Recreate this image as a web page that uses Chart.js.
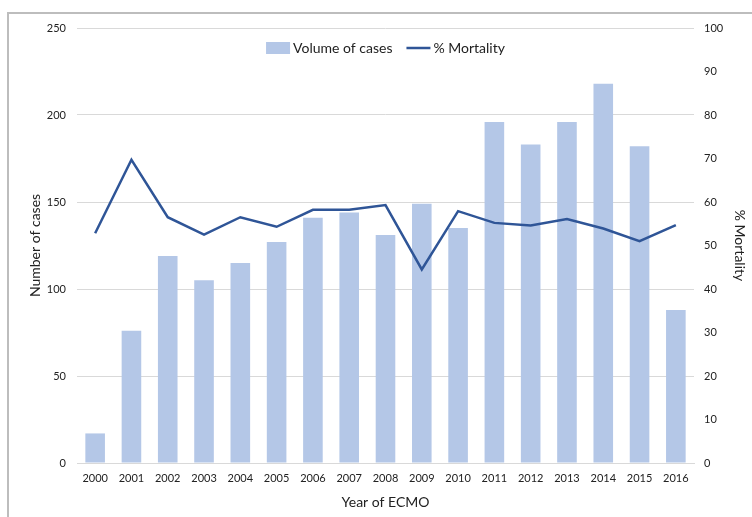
<!DOCTYPE html>
<html>
<head>
<meta charset="utf-8">
<script src="https://cdn.jsdelivr.net/npm/chart.js@4"></script>
<style>
  html, body { margin: 0; padding: 0; background: #fff; }
  #wrap { position: relative; width: 752px; height: 517px; }
  #frame { position: absolute; left: 7px; top: 12px; right: 0; bottom: 0; border-left: 2px solid #bdbdbd; border-top: 2px solid #bdbdbd; pointer-events: none; }
  canvas { position: absolute; left: 0; top: 0; }
</style>
</head>
<body>
<div id="wrap">
  <canvas id="c" width="752" height="517"></canvas>
  <div id="frame"></div>
</div>
<script>
const years = ['2000','2001','2002','2003','2004','2005','2006','2007','2008','2009','2010','2011','2012','2013','2014','2015','2016'];
const volumeOfCases = [17, 76, 119, 105, 115, 127, 141, 144, 131, 149, 135, 196, 183, 196, 218, 182, 88];
const mortalityPct = [52.8, 69.7, 56.5, 52.5, 56.5, 54.3, 58.2, 58.2, 59.3, 44.5, 57.9, 55.2, 54.6, 56.1, 53.9, 51.0, 54.7];

const FONT = "Lato, 'Liberation Sans', Arial, sans-serif";
const TXT = '#222';
const BAR_COLOR = '#b4c7e7';
const LINE_COLOR = '#2f5597';

const innerLegend = {
  id: 'innerLegend',
  afterDraw(chart) {
    const ctx = chart.ctx;
    const area = chart.chartArea;
    const ds = chart.data.datasets;
    ctx.save();
    ctx.font = '14px ' + FONT;
    ctx.textBaseline = 'middle';
    const sw = 24, gap = 3, between = 14;
    const widths = ds.map(d => sw + gap + ctx.measureText(d.label).width);
    const total = widths.reduce((a, b) => a + b, 0) + between * (ds.length - 1);
    let x = (area.left + area.right) / 2 - total / 2;
    const y = area.top + 20;
    ds.forEach((d, i) => {
      if (d.type === 'bar') {
        ctx.fillStyle = BAR_COLOR;
        ctx.fillRect(x, y - 6, sw, 12);
      } else {
        ctx.strokeStyle = LINE_COLOR;
        ctx.lineWidth = 2.5;
        ctx.beginPath();
        ctx.moveTo(x, y);
        ctx.lineTo(x + sw, y);
        ctx.stroke();
      }
      ctx.fillStyle = TXT;
      ctx.textAlign = 'left';
      ctx.fillText(d.label, x + sw + gap, y);
      x += widths[i] + between;
    });
    ctx.restore();
  }
};

new Chart(document.getElementById('c'), {
  data: {
    labels: years,
    datasets: [
      {
        type: 'bar',
        label: 'Volume of cases',
        data: volumeOfCases,
        yAxisID: 'y',
        backgroundColor: BAR_COLOR,
        borderWidth: 0,
        barPercentage: 0.54,
        categoryPercentage: 1.0,
        order: 2
      },
      {
        type: 'line',
        label: '% Mortality',
        data: mortalityPct,
        yAxisID: 'y2',
        borderColor: LINE_COLOR,
        backgroundColor: LINE_COLOR,
        borderWidth: 2.5,
        pointRadius: 0,
        tension: 0,
        order: 1
      }
    ]
  },
  plugins: [innerLegend],
  options: {
    responsive: false,
    animation: false,
    layout: { padding: { left: 27, right: 0, top: 28, bottom: 6 } },
    plugins: {
      tooltip: { enabled: false },
      legend: { display: false }
    },
    scales: {
      x: {
        grid: { display: false, drawTicks: false },
        border: { display: true, color: '#d9d9d9', width: 1 },
        ticks: { font: { family: FONT, size: 11 }, color: TXT, padding: 9, maxRotation: 0, autoSkip: false },
        title: { display: true, text: 'Year of ECMO', font: { family: FONT, size: 14 }, color: TXT, padding: { top: 4, bottom: 0 } },
        afterFit(s) { s.height = 48; }
      },
      y: {
        position: 'left',
        min: 0, max: 250,
        ticks: { stepSize: 50, font: { family: FONT, size: 11 }, color: TXT, padding: 11 },
        grid: { color: '#d9d9d9', drawTicks: false },
        border: { display: false },
        title: { display: true, text: 'Number of cases', font: { family: FONT, size: 14 }, color: TXT, padding: { top: 0, bottom: 4 } },
        afterFit(s) { s.width = 50; }
      },
      y2: {
        position: 'right',
        min: 0, max: 100,
        ticks: { stepSize: 10, font: { family: FONT, size: 11 }, color: TXT, padding: 10 },
        grid: { display: false, drawTicks: false },
        border: { display: false },
        title: { display: true, text: '% Mortality', font: { family: FONT, size: 14 }, color: TXT, padding: { top: 4, bottom: 4 } },
        afterFit(s) { s.width = 58; }
      }
    }
  }
});
</script>
</body>
</html>
